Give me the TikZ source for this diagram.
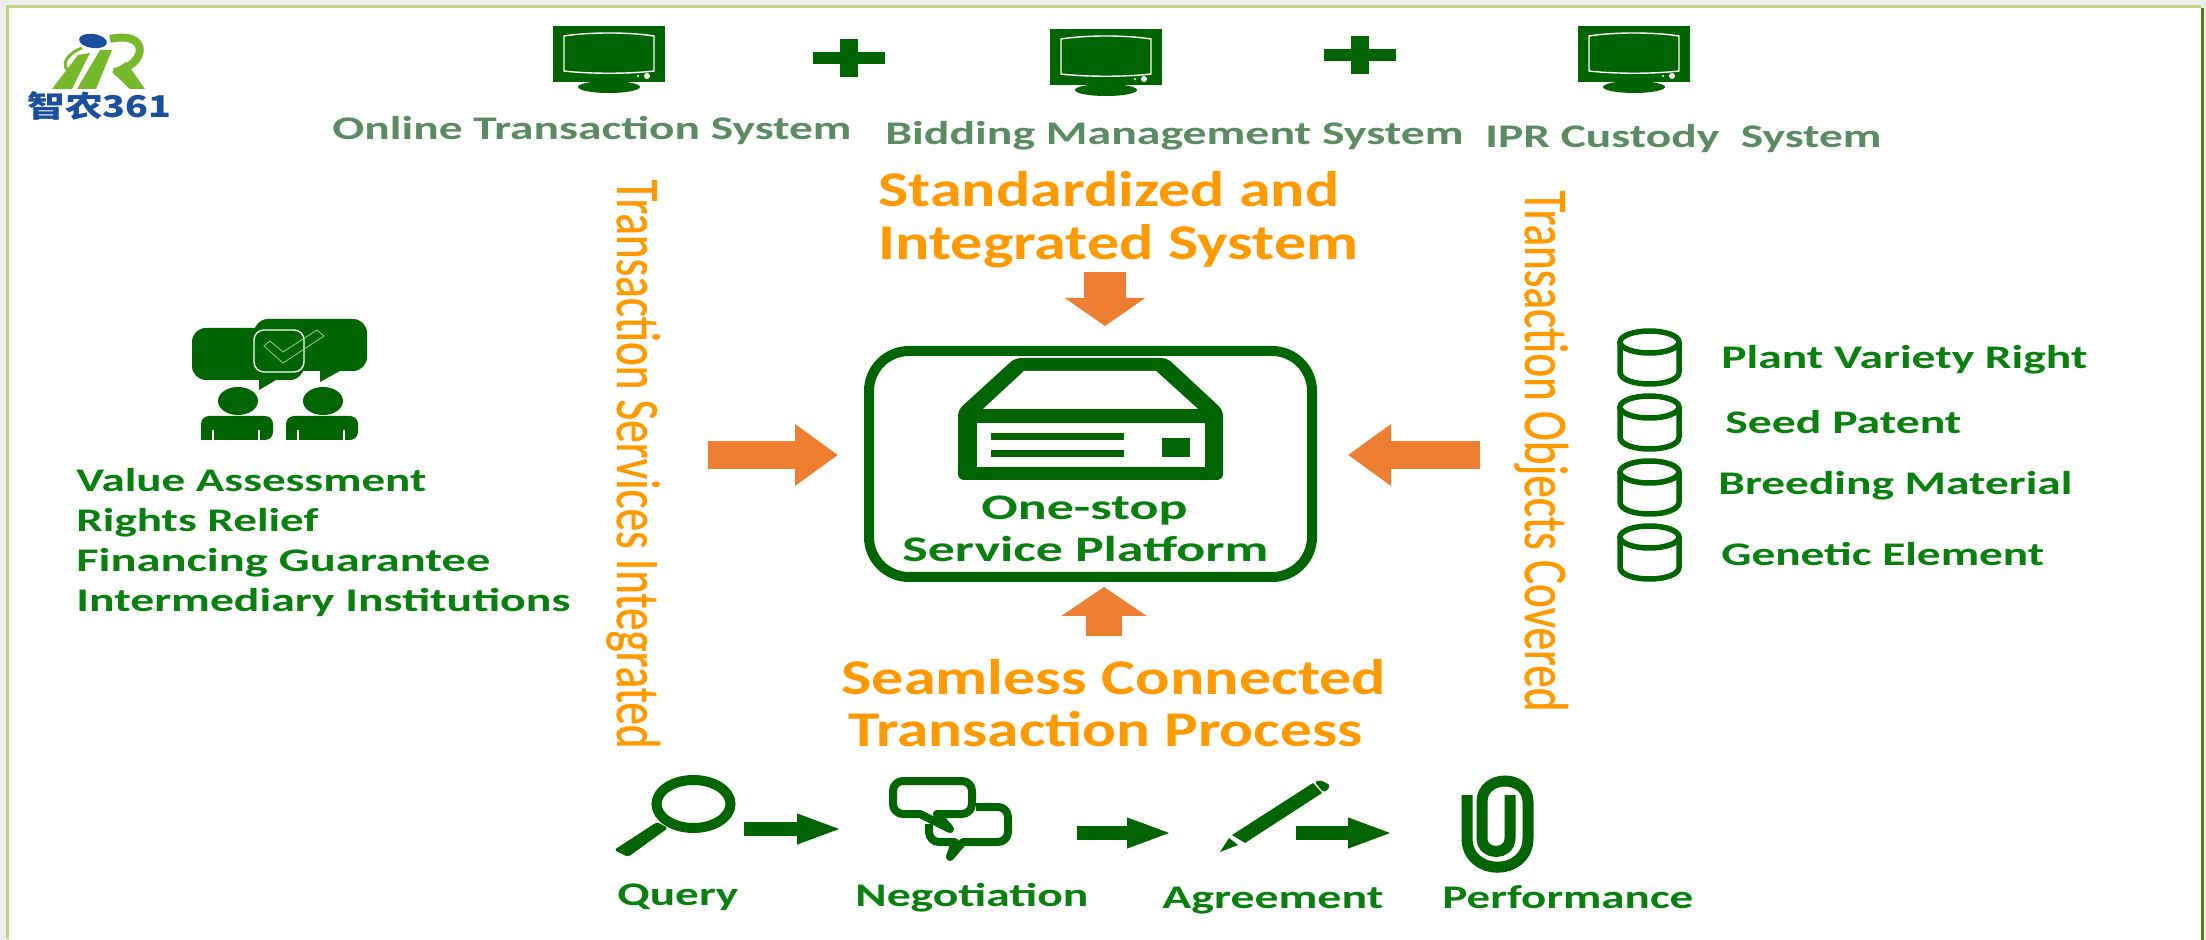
\documentclass[tikz,border=0pt]{standalone}
\usepackage{fontspec}
\usepackage{graphicx}
\setmainfont{Carlito}
\newfontfamily\cjkfont{Noto Sans CJK SC}
\newfontfamily\sidefont{Carlito}[FakeBold=0.7]
\usetikzlibrary{arrows.meta, positioning}
\definecolor{icongreen}{HTML}{006400}
\definecolor{textgreen}{HTML}{087F0E}
\definecolor{topgreen}{HTML}{5B8A63}
\definecolor{textorange}{HTML}{FF9900}
\definecolor{arroworange}{HTML}{ED7D31}
\definecolor{logogreen}{HTML}{76B82A}
\definecolor{logoblue}{HTML}{1A4F9E}
\definecolor{edgelight}{HTML}{BDD67C}
\definecolor{edgedark}{HTML}{4F7F0F}
\definecolor{pagegrey}{HTML}{EEEEEE}
\newcommand{\fitw}[2]{\resizebox{#1}{\height}{#2}}

\begin{document}
\begin{tikzpicture}[x=0.5pt, y=-0.5pt, % one unit is one pixel of the reference
		toplabel/.style={anchor=base west, inner sep=0pt, text=topgreen, font=\fontsize{16.5}{18}\selectfont\bfseries},
		greenlabel/.style={anchor=base west, inner sep=0pt, text=textgreen, font=\fontsize{16.5}{18}\selectfont\bfseries},
		listlabel/.style={greenlabel, text height=14.6pt, text depth=5pt},
		platformlabel/.style={anchor=base west, inner sep=0pt, text=textgreen, font=\fontsize{18}{20}\selectfont\bfseries},
		headline/.style={anchor=base west, inner sep=0pt, text=textorange, font=\fontsize{25}{28}\selectfont\bfseries},
		sideline/.style={anchor=base west, rotate=-90, inner sep=0pt, text=textorange, font=\fontsize{31}{34}\sidefont},
		platformbox/.style={rectangle, draw=icongreen, fill=white, line width=5pt, rounded corners=20pt, minimum width=221.5pt, minimum height=113pt},
		sidearrow/.style={draw=arroworange, line width=14pt, -{Triangle[length=21.5pt, width=29.5pt, fill=arroworange]}},
		toparrow/.style={draw=arroworange, line width=21pt, -{Triangle[length=14pt, width=39.5pt, fill=arroworange]}},
		botarrow/.style={draw=arroworange, line width=18pt, -{Triangle[length=14.5pt, width=42pt, fill=arroworange]}},
		flowarrow/.style={draw=icongreen, line width=7pt, -{Triangle[length=23pt, width=13.5pt, fill=icongreen]}},
		iconline/.style={draw=icongreen, line width=4pt, line join=round},
		monitor/.pic={
			\fill[icongreen] (-56,0) rectangle (56,56);
			\draw[white, line width=0.7pt] (-45,10) .. controls (-20,6) and (20,6) .. (45,10) -- (45,45) .. controls (20,48) and (-20,48) .. (-45,45) -- cycle;
			\fill[white] (38,50) circle [radius=3];
			\fill[white] (29,50) circle [radius=1.2];
			\fill[icongreen] (0,61) ellipse [x radius=31, y radius=6];
		},
		plussign/.pic={
			\fill[icongreen] (-36,-6) rectangle (36,6);
			\fill[icongreen] (-9,-19) rectangle (9,19);
		},
		drum/.pic={
			\draw[icongreen, line width=2.75pt] (-29.5,14) -- (-29.5,44) .. controls (-29.5,60) and (29.5,60) .. (29.5,44) -- (29.5,14);
			\draw[icongreen, line width=2.75pt] (0,14) ellipse [x radius=29.5, y radius=11];
		},
		person/.pic={
			\fill[icongreen] (0,0) ellipse [x radius=20, y radius=14];
			\fill[icongreen, rounded corners=4pt] (-37,39) -- (-37,15) -- (35,15) -- (35,39) [sharp corners] -- cycle;
			\draw[white, line width=0.6pt] (-25,29) -- (-25,39);
			\draw[white, line width=0.6pt] (21,29) -- (21,39);
		}
		]
		\useasboundingbox (0,0) rectangle (2206,940);
		
		% Page edges
		\fill[pagegrey] (0,0) rectangle (2206,940);
		\fill[white] (9,8) rectangle (2201,940);
		\fill[edgelight] (6,5) rectangle (2201,8);
		\fill[edgelight] (6,5) rectangle (9,939);
		\fill[edgedark] (2201,8) rectangle (2204,940);
		
		% Logo
		\fill[logoblue, rotate around={-8:(93,41)}] (93,41) ellipse [x radius=14, y radius=7];
		\fill[logogreen] (52,89) -- (72,89) -- (90,53) -- (78,55) -- cycle;
		\fill[logogreen] (77,89) -- (96,89) -- (112,50) -- (100,50) -- cycle;
		\fill[logogreen] (112,72) -- (126,62) -- (145,89) -- (130,89) -- cycle;
		\draw[logogreen, line width=4pt] (110,39) .. controls (150,30) and (148,65) .. (114,72);
		\draw[logogreen, line width=1.5pt] (82,48) .. controls (66,54) and (60,66) .. (70,72);
		\node[anchor=base west, inner sep=0pt, text=logoblue, font=\fontsize{15}{17}\cjkfont\bfseries] (logotext) at (27,118) {\fitw{72pt}{智农361}};
		
		% Systems along the top
		\pic at (609,26) {monitor};
		\pic at (849,58) {plussign};
		\pic at (1106,29) {monitor};
		\pic at (1360,55) {plussign};
		\pic at (1634,26) {monitor};
		\node[toplabel] (online) at (332,140) {\fitw{259.5pt}{Online Transaction System}};
		\node[toplabel] (bidding) at (885,145) {\fitw{289pt}{Bidding Management System}};
		\node[toplabel] (custody) at (1485,148) {\fitw{198pt}{IPR Custody\ \ System}};
		
		% Orange headlines
		\node[headline] (standard) at (878,207) {\fitw{230.5pt}{Standardized and}};
		\node[headline] (integrated) at (878,260) {\fitw{240pt}{Integrated System}};
		\node[headline] (seamless) at (841,695) {\fitw{272.5pt}{Seamless Connected}};
		\node[headline] (process) at (848,746) {\fitw{257pt}{Transaction Process}};
		\node[sideline] (services) at (617,179) {\fitw{284.5pt}{Transaction Services Integrated}};
		\node[sideline] (objects) at (1525,190) {\fitw{260.5pt}{Transaction Objects Covered}};
		
		% Platform in the middle
		\node[platformbox] (platform) at (1090.5,464) {};
		\fill[icongreen, rounded corners=3pt] (958,480) -- (958,410) -- (1015,358) -- (1167,358) -- (1223,410) -- (1223,480) -- cycle;
		\fill[white] (983,409) -- (1024,371) -- (1156,371) -- (1198,409) -- cycle;
		\fill[white] (977,423) rectangle (1205,467);
		\fill[icongreen] (991,433) rectangle (1124,440);
		\fill[icongreen] (991,450) rectangle (1124,457);
		\fill[icongreen] (1162,438) rectangle (1190,457);
		\node[platformlabel] (onestop) at (981,520) {\fitw{103pt}{One-stop}};
		\node[platformlabel] (service) at (902,562) {\fitw{183pt}{Service Platform}};
		
		% Arrows into the platform
		\coordinate (servicesend) at (708,455);
		\coordinate (objectsend) at (1480,455);
		\coordinate (standardend) at (1105,272);
		\coordinate (processend) at (1104,636);
		\draw[sidearrow, shorten >=13pt] (servicesend) -- (servicesend -| platform.west);
		\draw[sidearrow, shorten >=15.5pt] (objectsend) -- (objectsend -| platform.east);
		\draw[toparrow, shorten >=10pt] (standardend) -- (standardend |- platform.north);
		\draw[botarrow, shorten >=2.5pt] (processend) -- (processend |- platform.south);
		
		% People and services on the left
		\fill[icongreen, rounded corners=7pt] (192,328) -- (304,328) -- (304,380) [sharp corners] -- (276,380) -- (259,390) -- (259,380) [rounded corners=7pt] -- (192,380) -- cycle;
		\fill[icongreen, rounded corners=7pt] (254,319) -- (367,319) -- (367,371) [sharp corners] -- (340,371) -- (320,382) -- (320,371) [rounded corners=7pt] -- (254,371) -- cycle;
		\draw[white, line width=0.7pt, rounded corners=5pt] (254,330) rectangle (304,372);
		\draw[green!45!gray!60, line width=0.4pt] (264,346) -- (270,341) -- (283,352) -- (317,330) -- (324,336) -- (283,363) -- cycle;
		\pic at (238,401) {person};
		\pic at (323,401) {person};
		\node[listlabel] (value) at (76,492) {\fitw{175pt}{Value Assessment}};
		\node[listlabel, below=0pt of value.south west, anchor=north west] (rights) {\fitw{121pt}{Rights Relief}};
		\node[listlabel, below=0pt of rights.south west, anchor=north west] (financing) {\fitw{207pt}{Financing Guarantee}};
		\node[listlabel, below=0pt of financing.south west, anchor=north west] (intermediary) {\fitw{247pt}{Intermediary Institutions}};
		
		% Objects on the right
		\pic at (1649.5,328) {drum};
		\pic at (1649.5,393) {drum};
		\pic at (1649.5,458) {drum};
		\pic at (1649.5,523) {drum};
		\node[greenlabel] (plant) at (1721,369) {\fitw{183pt}{Plant Variety Right}};
		\node[greenlabel] (seed) at (1725,434) {\fitw{118pt}{Seed Patent}};
		\node[greenlabel] (breeding) at (1718,495) {\fitw{177pt}{Breeding Material}};
		\node[greenlabel] (genetic) at (1721,566) {\fitw{161.5pt}{Genetic Element}};
		
		% Process along the bottom: magnifier
		\draw[icongreen, line width=5pt] (693.5,804) ellipse [x radius=37, y radius=24];
		\fill[icongreen, rounded corners=1.5pt] (657,822) -- (668,828) -- (628,857) -- (614,850) -- cycle;
		% speech bubbles
		\draw[iconline, rounded corners=5pt] (976,807) -- (1008,807) -- (1008,842) [sharp corners] -- (963,842) -- (950,857) -- (955,842) [rounded corners=5pt] -- (929,842) -- (929,824);
		\draw[iconline, fill=white, rounded corners=5pt] (920,814) -- (893,814) -- (893,781) -- (972,781) -- (972,814) [sharp corners] -- (937,814) -- (950,829) -- cycle;
		% pencil
		\fill[icongreen] (1232,835) -- (1313,783) -- (1322,793) -- (1245,843) -- cycle;
		\fill[icongreen] (1229,838) -- (1220,852) -- (1238,845) -- cycle;
		\fill[icongreen, rounded corners=1pt] (1315,782) -- (1320,780) -- (1330,785) -- (1327,791) -- (1323,792) -- cycle;
		% paper clip
		\draw[icongreen, line width=5.5pt] (1467,795) -- (1467,838) .. controls (1467,877) and (1528,877) .. (1528,838) -- (1528,802) .. controls (1528,774) and (1482,774) .. (1482,802) -- (1482,838) .. controls (1482,856) and (1510,856) .. (1510,838) -- (1510,795);
		
		\coordinate (queryend) at (744,829);
		\coordinate (negotiationstart) at (843,829);
		\coordinate (negotiationend) at (1077,833);
		\coordinate (agreementstart) at (1173,833);
		\coordinate (agreementend) at (1296,833);
		\coordinate (performancestart) at (1394,833);
		\draw[flowarrow] (queryend) -- (negotiationstart);
		\draw[flowarrow] (negotiationend) -- (agreementstart);
		\draw[flowarrow] (agreementend) -- (performancestart);
		
		\node[greenlabel] (query) at (617,905) {\fitw{60.5pt}{Query}};
		\node[greenlabel] (negotiation) at (855,906) {\fitw{116.5pt}{Negotiation}};
		\node[greenlabel] (agreement) at (1162,908) {\fitw{110.5pt}{Agreement}};
		\node[greenlabel] (performance) at (1442,908) {\fitw{125.5pt}{Performance}};
		
	\end{tikzpicture}
\end{document}
